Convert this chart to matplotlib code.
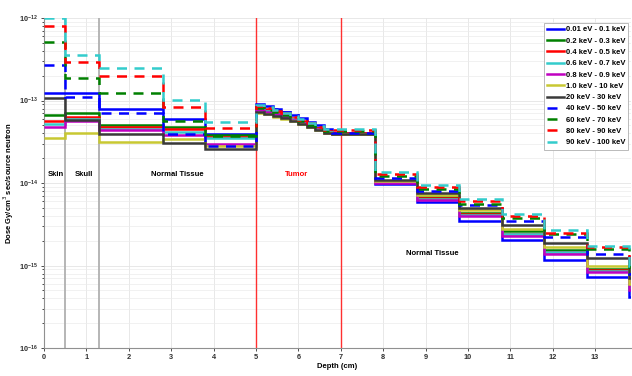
import matplotlib
matplotlib.use("Agg")
import matplotlib.pyplot as plt
from matplotlib.ticker import NullFormatter, FixedLocator

plt.rcParams['font.family'] = ['Liberation Sans', 'DejaVu Sans']

# Depth bin edges (cm): skin, skull, normal tissue, tumor (0.2 cm bins), plateau, distal tissue
edges = [0, 0.5, 1.3, 2.8, 3.8, 5.0, 5.2, 5.4, 5.6, 5.8, 6.0, 6.2, 6.4, 6.6, 6.8,
         7.8, 8.8, 9.8, 10.8, 11.8, 12.8, 13.8, 14.8]

UNIT = 1e-14  # dose values below are in units of 1e-14 Gy/cm^3 sec/source neutron

labels = ['0.01 eV - 0.1 keV', '0.2 keV - 0.3 keV', '0.4 keV - 0.5 keV',
          '0.6 keV - 0.7 keV', '0.8 keV - 0.9 keV', '1.0 keV - 10 keV',
          '20 keV - 30 keV', '40 keV - 50 keV', '60 keV - 70 keV',
          '80 keV - 90 keV', '90 keV - 100 keV']
colors = ['#0000ff', '#008000', '#ff0000', '#33cccc', '#c000c0', '#c8c832',
          '#3a3a3a', '#0000ff', '#008000', '#ff0000', '#33cccc']
styles = ['-'] * 7 + ['--'] * 4

dose_001eV_01keV = [12.3, 12.3, 7.8, 6.0, 3.96,
                    9.1, 8.6, 8.0, 7.3, 6.7, 6.1, 5.5, 5.0, 4.5, 4.0,
                    0.97, 0.59, 0.35, 0.205, 0.118, 0.072, 0.042]
dose_02_03keV = [6.6, 7.0, 5.1, 4.8, 3.8,
                 8.0, 7.5, 7.0, 6.5, 6.0, 5.5, 5.0, 4.6, 4.2, 3.95,
                 1.05, 0.68, 0.44, 0.26, 0.155, 0.092, 0.055]
dose_04_05keV = [5.6, 6.4, 4.8, 4.5, 3.65,
                 8.4, 7.9, 7.4, 6.8, 6.2, 5.7, 5.2, 4.7, 4.3, 4.0,
                 1.03, 0.66, 0.42, 0.245, 0.148, 0.088, 0.053]
dose_06_07keV = [5.2, 6.0, 4.55, 4.2, 3.5,
                 7.8, 7.4, 6.9, 6.4, 5.9, 5.4, 4.9, 4.5, 4.2, 3.95,
                 1.02, 0.65, 0.41, 0.24, 0.145, 0.086, 0.052]
dose_08_09keV = [4.8, 5.6, 4.35, 3.8, 3.0,
                 7.6, 7.2, 6.8, 6.3, 5.8, 5.3, 4.9, 4.5, 4.1, 3.9,
                 1.0, 0.63, 0.40, 0.23, 0.14, 0.083, 0.05]
dose_1_10keV = [3.5, 4.0, 3.15, 3.4, 2.8,
                7.1, 6.8, 6.4, 6.0, 5.6, 5.2, 4.8, 4.4, 4.1, 3.9,
                1.07, 0.71, 0.47, 0.277, 0.17, 0.098, 0.06]
dose_20_30keV = [10.7, 5.8, 3.96, 3.1, 2.6,
                 7.3, 6.9, 6.5, 6.1, 5.7, 5.2, 4.8, 4.4, 4.1, 3.95,
                 1.10, 0.75, 0.50, 0.31, 0.19, 0.125, 0.07]
dose_40_50keV = [27.0, 10.9, 7.0, 3.9, 2.8,
                 8.9, 8.4, 7.8, 7.2, 6.6, 6.0, 5.4, 4.9, 4.5, 4.1,
                 1.15, 0.80, 0.54, 0.35, 0.22, 0.139, 0.08]
dose_60_70keV = [51.0, 19.0, 12.5, 5.6, 3.7,
                 8.2, 7.7, 7.2, 6.7, 6.1, 5.6, 5.1, 4.7, 4.3, 4.3,
                 1.22, 0.84, 0.56, 0.38, 0.24, 0.16, 0.09]
dose_80_90keV = [81.0, 29.6, 20.0, 8.3, 4.6,
                 8.6, 8.1, 7.6, 7.0, 6.4, 5.8, 5.3, 4.8, 4.4, 4.4,
                 1.29, 0.89, 0.60, 0.40, 0.25, 0.167, 0.095]
dose_90_100keV = [99.0, 36.0, 24.7, 10.2, 5.5,
                  8.8, 8.3, 7.7, 7.1, 6.5, 5.9, 5.4, 4.9, 4.5, 4.5,
                  1.38, 0.94, 0.65, 0.42, 0.27, 0.175, 0.1]

series = [dose_001eV_01keV, dose_02_03keV, dose_04_05keV, dose_06_07keV,
          dose_08_09keV, dose_1_10keV, dose_20_30keV, dose_40_50keV,
          dose_60_70keV, dose_80_90keV, dose_90_100keV]

# Region boundaries and labels
boundaries_tissue = [0.5, 1.3]
boundaries_tumor = [5.0, 7.0]
region_text = [('Skin', 0.27, 1.27e-14, 'black'), ('Skull', 0.95, 1.27e-14, 'black'),
               ('Normal Tissue', 3.15, 1.27e-14, 'black'), ('Tumor', 5.95, 1.27e-14, 'red'),
               ('Normal Tissue', 9.15, 1.4e-15, 'black')]

decades = [-16, -15, -14, -13, -12]
y_major = [10.0 ** d for d in decades]
y_minor = [m * 10.0 ** d for d in decades[:-1] for m in range(2, 10)]

fig = plt.figure(figsize=(6.32, 3.76), dpi=100)
ax = fig.add_axes([0.0696, 0.074, 0.929, 0.878])

ax.set_yscale('log')
ax.set_xlim(0, 13.85)
ax.set_ylim(1e-16, 1e-12)

ax.xaxis.set_major_locator(FixedLocator(range(0, 14)))
ax.yaxis.set_major_locator(FixedLocator(y_major))
ax.yaxis.set_minor_locator(FixedLocator(y_minor))
ax.yaxis.set_minor_formatter(NullFormatter())

ax.grid(True, which='major', color='#e4e4e4', lw=0.6)
ax.grid(True, which='minor', axis='y', color='#ececec', lw=0.5)
ax.set_axisbelow(True)

for xb in boundaries_tissue:
    ax.axvline(xb, color='#b0b0b0', lw=1.3, zorder=1)
for xb in boundaries_tumor:
    ax.axvline(xb, color='#ff3030', lw=1.0, zorder=1)

for vals, lab, col, ls in zip(series, labels, colors, styles):
    y = [v * UNIT for v in vals]
    st = ax.stairs(y, edges, baseline=None, color=col, lw=1.8, label=lab, zorder=3)
    if ls == '--':
        st.set_linestyle((0, (4, 3)))

for txt, x, y, c in region_text:
    ax.text(x, y, txt, color=c, fontsize=5.5, fontweight='bold', ha='center', va='center')

ax.tick_params(labelsize=5.3, colors='#303030', length=2.5, width=0.6, pad=2)
ax.tick_params(which='minor', length=1.5, width=0.5)
for lbl in ax.get_xticklabels() + ax.get_yticklabels():
    lbl.set_fontweight('bold')

for side in ('top', 'right'):
    ax.spines[side].set_visible(False)
for side in ('left', 'bottom'):
    ax.spines[side].set_color('#909090')
    ax.spines[side].set_linewidth(0.8)

ax.set_xlabel('Depth (cm)', fontsize=5.5, fontweight='bold', labelpad=1)
ax.set_ylabel('Dose Gy/cm$^3$ sec/source neutron', fontsize=5.5, fontweight='bold')
ax.yaxis.set_label_coords(-0.047, 0.5)

leg = ax.legend(loc='upper right', bbox_to_anchor=(1.002, 0.997),
                prop={'weight': 'bold', 'size': 5.5}, handlelength=2.3,
                handletextpad=0.2, labelspacing=0.52, borderpad=0.4,
                fancybox=False, framealpha=1, edgecolor='#b0b0b0')
leg.get_frame().set_linewidth(0.6)

fig.savefig('out.png', dpi=100)
